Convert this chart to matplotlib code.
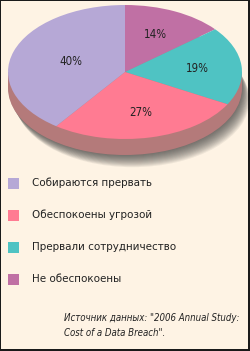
import matplotlib
matplotlib.use("Agg")
import matplotlib.pyplot as plt
from matplotlib import font_manager
from matplotlib.font_manager import FontProperties
from matplotlib.patches import Rectangle
import numpy as np

categories = ["Не обеспокоены", "Прервали сотрудничество", "Обеспокоены угрозой", "Собираются прервать"]
values = [14, 19, 27, 40]
colors = ["#C070A4", "#4FC3C3", "#FF7B92", "#B6A8D6"]
legend_order = ["Собираются прервать", "Обеспокоены угрозой", "Прервали сотрудничество", "Не обеспокоены"]
source_lines = ["Источник данных: \"2006 Annual Study:", "Cost of a Data Breach\"."]

# pick the narrowest available sans font
fl = font_manager.fontManager.ttflist
def find(pred):
    for f in fl:
        if pred(f):
            return f.fname
    return None
reg = (find(lambda f: f.name == "Liberation Sans Narrow" and f.style == "normal" and f.weight in (400, "normal"))
       or find(lambda f: "DejaVuSansCondensed.ttf" in f.fname)
       or find(lambda f: f.name == "Liberation Sans" and f.style == "normal" and f.weight in (400, "normal")))
ita = (find(lambda f: f.name == "Liberation Sans Narrow" and f.style == "italic" and f.weight in (400, "normal"))
       or find(lambda f: "DejaVuSansCondensed-Oblique.ttf" in f.fname)
       or find(lambda f: f.name == "Liberation Sans" and f.style == "italic" and f.weight in (400, "normal")))

W, H = 250, 351
fig = plt.figure(figsize=(W / 100, H / 100), dpi=100)
fig.patch.set_facecolor("#FEF3E4")
renderer = fig.canvas.get_renderer()

def fit_size(text, fname, target_px, base=10.0):
    fp = FontProperties(fname=fname, size=base)
    t = fig.text(0, 0, text, fontproperties=fp)
    w = t.get_window_extent(renderer).width
    t.remove()
    return base * target_px / w

leg_size = min(fit_size("Собираются прервать", reg, 120), 10.5)
src_size = min(fit_size(source_lines[0], ita, 176), 9.5)
lbl_size = min(fit_size("40%", reg, 23), 10.5)

# pie axes: data units map to an ellipse
cx, cy = 125, 72          # pixel centre (from top)
rx, ry = 117, 67
depth = 16 / ry
axp = fig.add_axes([0, 0, 1, 1])

# soft shadow below-right
for i in range(14):
    axp.pie([1], colors=["#383838"], center=(0.005 * i, -depth - 0.014 * i), radius=1,
            wedgeprops=dict(linewidth=0, alpha=0.08, zorder=1), frame=True)

side = "#B47A7A"
axp.pie([1], colors=[side], center=(0, -depth), radius=1,
        wedgeprops=dict(linewidth=0, zorder=2), frame=True)
axp.add_patch(Rectangle((-1, -depth), 2, depth, facecolor=side, edgecolor="none", zorder=2))
wedges, texts, autotexts = axp.pie(values, colors=colors, startangle=90, counterclock=False,
                                   radius=1, center=(0, 0), autopct="%d%%",
                                   pctdistance=0.62, frame=True,
                                   wedgeprops=dict(linewidth=0, zorder=3),
                                   textprops=dict(fontproperties=FontProperties(fname=reg, size=lbl_size),
                                                  color="#222222"))
for t in autotexts:
    t.set_zorder(5)
autotexts[3].set_position(np.array(autotexts[3].get_position()) * 0.78)
axp.set_aspect("auto")
axp.set_xlim((0 - cx) / rx, (W - cx) / rx)
axp.set_ylim((0 - (H - cy)) / ry, (H - (H - cy)) / ry)
axp.axis("off")

# overlay axes in pixel coords
ax = fig.add_axes([0, 0, 1, 1], facecolor="none")
ax.set_xlim(0, W)
ax.set_ylim(H, 0)
ax.axis("off")

y0, dy = 183, 32
for i, name in enumerate(legend_order):
    c = colors[categories.index(name)]
    y = y0 + i * dy
    ax.add_patch(Rectangle((8, y - 5.5), 11, 11, facecolor=c, edgecolor="none"))
    ax.text(32, y, name, fontproperties=FontProperties(fname=reg, size=leg_size),
            color="#222222", va="center", ha="left")

for j, line in enumerate(source_lines):
    ax.text(64, 318 + j * 15, line, fontproperties=FontProperties(fname=ita, size=src_size),
            color="#222222", va="center", ha="left")

# frame
ax.add_patch(Rectangle((0, 0), 1, H, facecolor="#1A1A1A", edgecolor="none"))
ax.add_patch(Rectangle((0, 0), W, 1, facecolor="#1A1A1A", edgecolor="none"))
ax.add_patch(Rectangle((W - 2.5, 0), 2.5, H, facecolor="#1A1A1A", edgecolor="none"))
ax.add_patch(Rectangle((0, H - 2), W, 2, facecolor="#1A1A1A", edgecolor="none"))

fig.savefig("out.png", dpi=100, facecolor=fig.get_facecolor())
